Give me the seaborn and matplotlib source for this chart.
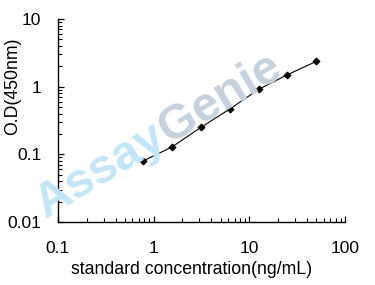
import matplotlib
matplotlib.use("Agg")
import matplotlib.pyplot as plt
import seaborn as sns
import pandas as pd
import numpy as np
from matplotlib.ticker import LogLocator, FixedLocator, NullFormatter, FuncFormatter

concentration = [0.78, 1.56, 3.125, 6.25, 12.5, 25, 50]
od_450 = [0.080, 0.129, 0.251, 0.467, 0.912, 1.50, 2.36]
x_ticks = [0.1, 1, 10, 100]
x_tick_labels = ["0.1", "1", "10", "100"]
y_ticks = [0.01, 0.1, 1, 10]
y_tick_labels = ["0.01", "0.1", "1", "10"]

sns.set_theme(style="ticks")
plt.rcParams['font.family'] = ['Liberation Sans', 'DejaVu Sans']

fig = plt.figure(figsize=(3.75, 2.85), dpi=100)
ax = fig.add_axes([58/375, 1 - 222/285, (345-58)/375, (222-19)/285])

df = pd.DataFrame({"conc": concentration, "od": od_450})

# watermark
wm_angle = 31
wm_size = 35
x0, y0 = 46, 285 - 218
fig.text(x0/375, y0/285, "Assay", fontsize=wm_size, fontweight='bold',
         color='#c4e5f6', rotation=wm_angle, rotation_mode='anchor',
         ha='left', va='baseline', zorder=0)
fig.canvas.draw()
tmp = fig.text(0, 0, "Assay", fontsize=wm_size, fontweight='bold')
w = tmp.get_window_extent(fig.canvas.get_renderer()).width
tmp.remove()
a = np.deg2rad(wm_angle)
fig.text((x0 + w*np.cos(a))/375, (y0 + w*np.sin(a))/285, "Genie", fontsize=wm_size,
         fontweight='bold', color='#c6d1dc', rotation=wm_angle, rotation_mode='anchor',
         ha='left', va='baseline', zorder=0)
ax.set_facecolor('none')

sns.lineplot(data=df, x="conc", y="od", ax=ax, color='black', linewidth=0.8,
             marker='D', markersize=3.5, markeredgecolor='black')

ax.set_xscale('log')
ax.set_yscale('log')
ax.set_xlim(0.1, 100)
ax.set_ylim(0.01, 10)
ax.xaxis.set_major_locator(FixedLocator(x_ticks))
ax.xaxis.set_major_formatter(FuncFormatter(lambda v, p: x_tick_labels[x_ticks.index(v)] if v in x_ticks else ""))
ax.yaxis.set_major_locator(FixedLocator(y_ticks))
ax.yaxis.set_major_formatter(FuncFormatter(lambda v, p: y_tick_labels[y_ticks.index(v)] if v in y_ticks else ""))
ax.xaxis.set_minor_locator(LogLocator(base=10, subs=range(2, 10)))
ax.yaxis.set_minor_locator(LogLocator(base=10, subs=range(2, 10)))
ax.xaxis.set_minor_formatter(NullFormatter())
ax.yaxis.set_minor_formatter(NullFormatter())

for s in ['top', 'right']:
    ax.spines[s].set_visible(False)
for s in ['left', 'bottom']:
    ax.spines[s].set_linewidth(1.0)
    ax.spines[s].set_color('black')

ax.tick_params(which='major', direction='in', length=4, width=0.9, color='black',
               labelsize=12.5, labelcolor='black')
ax.tick_params(which='minor', direction='in', length=3, width=0.8, color='black')
ax.tick_params(axis='x', which='major', pad=14)
ax.tick_params(axis='y', which='major', pad=12)

ax.set_xlabel("standard concentration(ng/mL)", fontsize=12.7, color='black')
ax.set_ylabel("O.D(450nm)", fontsize=12.7, color='black')
ax.xaxis.set_label_coords((192 - 58) / (345 - 58), -(270 - 222) / (222 - 19), transform=ax.transAxes)
ax.xaxis.label.set_va('center')
ax.yaxis.set_label_coords(-(58 - 13) / (345 - 58), (222 - 86) / (222 - 19), transform=ax.transAxes)
ax.yaxis.label.set_va('center')

fig.savefig("out.png", dpi=100, facecolor='white')
